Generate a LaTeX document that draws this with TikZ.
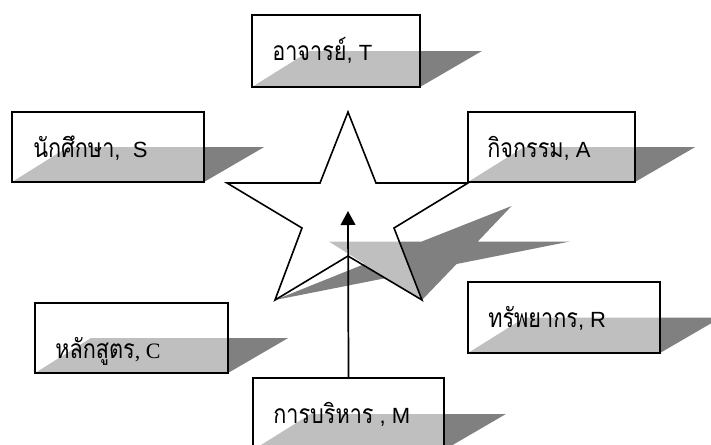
\documentclass[tikz,border=0pt]{standalone}
\usepackage{fontspec}
\setmainfont{Liberation Sans}
\newfontfamily\thaifont[Script=Thai,Scale=1.2,FakeStretch=0.82]{Loma}
\newfontfamily\serifont{Liberation Serif}
\usetikzlibrary{arrows.meta,fit}
\begin{document}
\begin{tikzpicture}[x=0.75pt,y=-0.75pt,
  shadowfill/.style={fill=black!50},
  sbox/.style={draw=black, line width=1.3pt, fill=white, fill opacity=0.5, draw opacity=1, inner sep=0pt},
  lbl/.style={anchor=base west, inner sep=0pt, font=\fontsize{16.5}{19}\selectfont}]
\useasboundingbox (0,0) rectangle (711,444);
% shadows of the boxes
\foreach \a/\b/\c/\d in {252/15/420/87, 12/112/204/182, 468/112/635/182, 35/303/228/373, 468/282/660/353, 253/378/444/450}
  \fill[shadowfill] (\a,\d) -- (\c,\d) -- ({\c+0.86*(\d-\b)},{(\b+\d)/2}) -- ({\a+0.80*(\d-\b)},{(\b+\d)/2}) -- cycle;
% shadow of the star
\fill[shadowfill] (511.6,206) -- (477.8,241.5) -- (569.8,241.5) -- (456.6,264) -- (422,300) -- (386.3,278) -- (275,300) -- (364.6,264) -- (328.8,241.5) -- (421.8,241.5) -- cycle;
% star
\draw[line width=1.2pt, line join=miter, fill=white, fill opacity=0.5, draw opacity=1]
  (348,112) -- (376,183) -- (468,183) -- (394,228) -- (422,300) -- (348,256) -- (275,300) -- (302,228) -- (227,183) -- (320,183) -- cycle;
% boxes
\node[sbox, fit={(252,15) (420,87)}] (bT) {};
\node[sbox, fit={(12,112) (204,182)}] (bS) {};
\node[sbox, fit={(468,112) (635,182)}] (bA) {};
\node[sbox, fit={(35,303) (228,373)}] (bC) {};
\node[sbox, fit={(468,282) (660,353)}] (bR) {};
\node[sbox, fit={(253,378) (444,450)}] (bM) {};
% labels
\node[lbl] (tT) at (272,60) {{\thaifont อาจารย์}, T};
\node[lbl] (tS) at (33,157) {{\thaifont นักศึกษา}, \ S};
\node[lbl] (tA) at (487,157) {{\thaifont กิจกรรม}, A};
\node[lbl] (tC) at (55,358) {{\thaifont หลักสูตร}{\serifont , C}};
\node[lbl] (tR) at (488,327) {{\thaifont ทรัพยากร}, R};
\node[lbl] (tM) at (273,423) {{\thaifont การบริหาร} , M};
% arrow
\coordinate (tip) at (348,211);
\draw[line width=1.3pt, -{Triangle[width=11pt,length=10.5pt]}] (bM.north) -- (tip);
\end{tikzpicture}
\end{document}
